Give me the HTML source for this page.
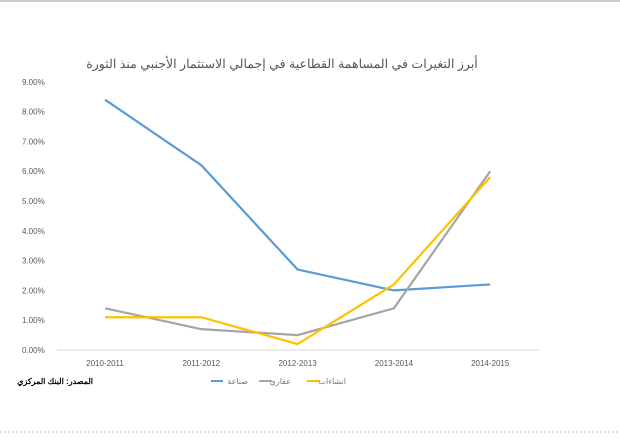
<!DOCTYPE html>
<html><head><meta charset="utf-8"><style>
body{margin:0;width:620px;height:435px;background:#fff;overflow:hidden;font-family:"Liberation Sans","Noto Sans CJK SC",sans-serif}
</style></head><body>
<svg width="620" height="435">
<line x1="0" y1="1" x2="620" y2="1" stroke="#ccc" stroke-width="2"/>
<line x1="0" y1="432" x2="620" y2="432" stroke="#bbb" stroke-dasharray="2,2"/>
<text x="282" y="68" text-anchor="middle" font-size="12.5" fill="#555" font-family="'Liberation Sans','Noto Sans CJK SC',sans-serif">أبرز التغيرات في المساهمة القطاعية في إجمالي الاستثمار الأجنبي منذ الثورة</text>
<g id="yaxis"></g><g id="xaxis"></g><g id="series"></g>
<line x1="57" y1="350" x2="540" y2="350" stroke="#d9d9d9"/>
<text x="93" y="384" text-anchor="end" font-size="8" font-weight="bold" fill="#000">المصدر: البنك المركزي</text>
<g>
<line x1="211" y1="381" x2="223" y2="381" stroke="#5b9bd5" stroke-width="2"/>
<text x="248" y="384" text-anchor="end" font-size="8" fill="#777">صناعة</text>
<line x1="259" y1="381" x2="272" y2="381" stroke="#a5a5a5" stroke-width="2"/>
<text x="291" y="384" text-anchor="end" font-size="8" fill="#777">عقاري</text>
<line x1="307" y1="381" x2="320" y2="381" stroke="#ffc000" stroke-width="2"/>
<text x="346" y="384" text-anchor="end" font-size="8" fill="#777">انشاءات</text>
</g>
</svg>
<script>
const categories=["2010-2011","2011-2012","2012-2013","2013-2014","2014-2015"];
const industry=[8.4,6.2,2.7,2.0,2.2];
const realEstate=[1.4,0.7,0.5,1.4,6.0];
const construction=[1.1,1.1,0.2,2.2,5.8];
const yTicks=[0,1,2,3,4,5,6,7,8,9];
const NS="http://www.w3.org/2000/svg";
const y=v=>350-v*29.8;
const x=i=>105+i*96.3;
const ya=document.getElementById('yaxis'),xa=document.getElementById('xaxis'),sg=document.getElementById('series');
yTicks.forEach(t=>{const e=document.createElementNS(NS,'text');
e.setAttribute('x',22);e.setAttribute('y',y(t)+3);e.setAttribute('font-size','8');e.setAttribute('fill','#595959');
e.textContent=t.toFixed(2)+'%';


ya.appendChild(e);});
categories.forEach((c,i)=>{const e=document.createElementNS(NS,'text');
e.setAttribute('x',x(i));e.setAttribute('y',366);e.setAttribute('font-size','8');e.setAttribute('fill','#595959');e.setAttribute('text-anchor','middle');
e.textContent=c;


xa.appendChild(e);});
[[industry,'#5b9bd5','line-industry'],[realEstate,'#a5a5a5','line-realestate'],[construction,'#ffc000','line-construction']].forEach(([d,col,n])=>{
const p=document.createElementNS(NS,'polyline');
p.setAttribute('points',d.map((v,i)=>x(i)+','+y(v)).join(' '));
p.setAttribute('fill','none');p.setAttribute('stroke',col);p.setAttribute('stroke-width','2.2');


sg.appendChild(p);});
</script>
</body></html>
